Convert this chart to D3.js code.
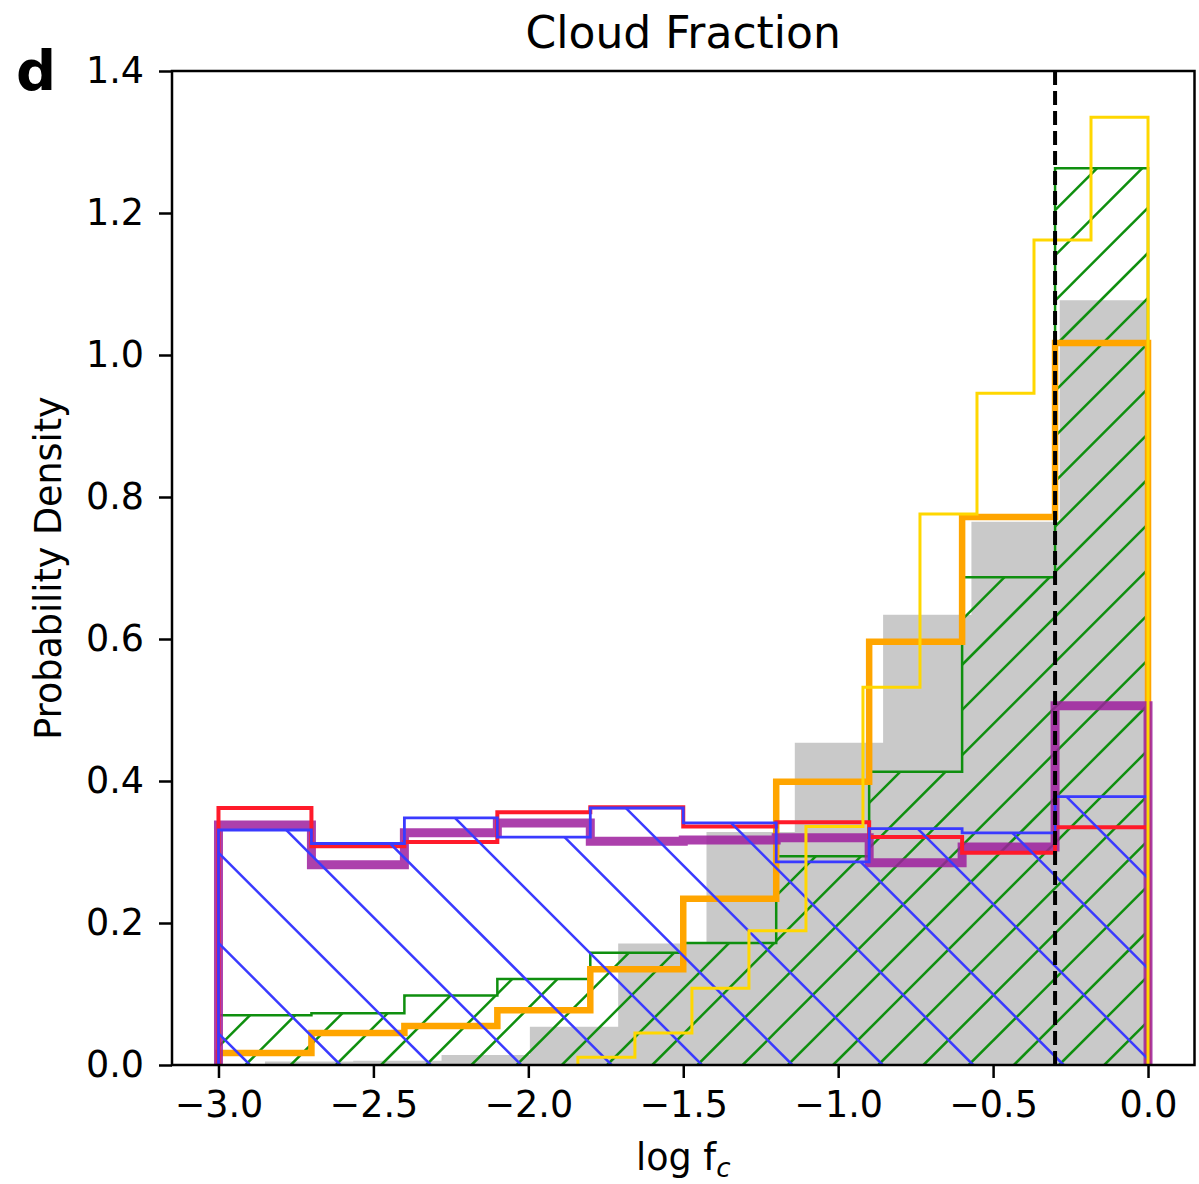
<!DOCTYPE html>
<html>
<head>
<meta charset="utf-8">
<script src="https://cdnjs.cloudflare.com/ajax/libs/d3/7.8.5/d3.min.js"></script>
<style>
  body { margin: 0; background: #fff; }
  text { font-family: "DejaVu Sans", sans-serif; fill: #000; }
</style>
</head>
<body>
<svg id="chart" width="1199" height="1184"></svg>
<script>
// bin edges (log f_c)
var edgesMain = [-3.0, -2.7, -2.4, -2.1, -1.8, -1.5, -1.2, -0.9, -0.6, -0.3, 0.0];
var edgesGray = [-2.85, -2.565, -2.28, -1.995, -1.71, -1.425, -1.14, -0.855, -0.57, -0.285, 0.0];
var edgesGold = [-1.84, -1.656, -1.472, -1.288, -1.104, -0.92, -0.736, -0.552, -0.368, -0.184, 0.0];

// probability densities per bin
var grayVals   = [0.005, 0.006, 0.014, 0.054, 0.171, 0.328, 0.454, 0.634, 0.765, 1.077];
var greenVals  = [0.070, 0.073, 0.098, 0.121, 0.158, 0.172, 0.294, 0.413, 0.687, 1.263];
var orangeVals = [0.017, 0.045, 0.055, 0.077, 0.135, 0.234, 0.399, 0.596, 0.772, 1.017];
var purpleVals = [0.338, 0.282, 0.327, 0.341, 0.315, 0.317, 0.320, 0.285, 0.307, 0.506];
var redVals    = [0.362, 0.308, 0.314, 0.356, 0.363, 0.336, 0.342, 0.321, 0.299, 0.335];
var blueVals   = [0.331, 0.312, 0.348, 0.321, 0.362, 0.341, 0.286, 0.333, 0.327, 0.378];
var goldVals   = [0.011, 0.045, 0.108, 0.189, 0.336, 0.532, 0.776, 0.946, 1.162, 1.335];

var xTicks = [-3.0, -2.5, -2.0, -1.5, -1.0, -0.5, 0.0];
var yTicks = [0.0, 0.2, 0.4, 0.6, 0.8, 1.0, 1.2, 1.4];
var threshold = -0.3;

var svg = d3.select('#chart'),
    pLeft = 172, pRight = 1194.5, pTop = 71, pBottom = 1065,
    fs = 36.5;

var x = d3.scaleLinear().domain([-3.15, 0.15]).range([pLeft, pRight]);
var y = d3.scaleLinear().domain([0, 1.4]).range([pBottom, pTop]);

// step outline of a histogram, from the bin edges and values
function stepPoints(edges, vals) {
    var pts = [[edges[0], 0]];
    vals.forEach(function(v, i) {
        pts.push([edges[i], v]);
        pts.push([edges[i + 1], v]);
    });
    pts.push([edges[edges.length - 1], 0]);
    return pts;
}
var line = d3.line().x(function(d) { return x(d[0]); }).y(function(d) { return y(d[1]); });

var defs = svg.append('defs');
defs.append('clipPath').attr('id', 'plotclip')
    .append('rect').attr('x', pLeft).attr('y', pTop).attr('width', pRight - pLeft).attr('height', pBottom - pTop);

var plot = svg.append('g').attr('clip-path', 'url(#plotclip)');

// hatch lines clipped to the area under a histogram
function hatch(id, edges, vals, color, dir, spacing, anchor) {
    defs.append('clipPath').attr('id', id)
        .append('path').attr('d', line(stepPoints(edges, vals)) + 'Z');
    var g = plot.append('g').attr('clip-path', 'url(#' + id + ')');
    var cs = d3.range(-60, 61).map(function(k) { return anchor + k * spacing; });
    g.selectAll('line').data(cs).enter().append('line')
        .attr('x1', function(c) { return dir > 0 ? c - pTop : c + pTop; })
        .attr('y1', pTop)
        .attr('x2', function(c) { return dir > 0 ? c - pBottom : c + pBottom; })
        .attr('y2', pBottom)
        .attr('stroke', color).attr('stroke-width', 2.5);
}

function outline(edges, vals, color, width, opacity) {
    plot.append('path')
        .attr('d', line(stepPoints(edges, vals)))
        .attr('fill', 'none')
        .attr('stroke', color)
        .attr('stroke-width', width)
        .attr('stroke-opacity', opacity)
        .attr('stroke-linejoin', 'miter');
}

// gray filled histogram
plot.append('path')
    .attr('d', line(stepPoints(edgesGray, grayVals)) + 'Z')
    .attr('fill', '#c9c9c9');

// green '/' hatched
hatch('greenclip', edgesMain, greenVals, '#0f8f0f', 1, 45.2, x(-3) + y(0) + 27);
outline(edgesMain, greenVals, '#0f8f0f', 2.5, 1);

outline(edgesMain, orangeVals, 'orange', 6.5, 1);
outline(edgesMain, purpleVals, '#9e1f9e', 9, 0.85);
outline(edgesMain, redVals, '#ff1a2a', 4, 1);

// blue '\' hatched
hatch('blueclip', edgesMain, blueVals, '#3a3aff', -1, 90.4, x(0) - y(0) + 6);
outline(edgesMain, blueVals, '#3a3aff', 2.8, 1);

outline(edgesGold, goldVals, 'gold', 3, 1);

// threshold
plot.append('line')
    .attr('x1', x(threshold)).attr('x2', x(threshold))
    .attr('y1', pTop).attr('y2', pBottom)
    .attr('stroke', '#000').attr('stroke-width', 4)
    .attr('stroke-dasharray', '14,6');

// axes
var fmt = d3.format('.1f');
var xAxis = svg.append('g').attr('transform', 'translate(0,' + pBottom + ')')
    .call(d3.axisBottom(x).tickValues(xTicks).tickFormat(fmt).tickSize(13).tickPadding(13).tickSizeOuter(0));
var yAxis = svg.append('g').attr('transform', 'translate(' + pLeft + ',0)')
    .call(d3.axisLeft(y).tickValues(yTicks).tickFormat(fmt).tickSize(13).tickPadding(15).tickSizeOuter(0));
[xAxis, yAxis].forEach(function(a) {
    a.select('.domain').remove();
    a.selectAll('line').attr('stroke', '#000').attr('stroke-width', 2.5);
    a.selectAll('text').attr('font-size', fs).attr('font-family', '"DejaVu Sans", sans-serif').attr('fill', '#000');
});

svg.append('rect')
    .attr('x', pLeft).attr('y', pTop).attr('width', pRight - pLeft).attr('height', pBottom - pTop)
    .attr('fill', 'none').attr('stroke', '#000').attr('stroke-width', 2.5);

// labels
svg.append('text').attr('x', (pLeft + pRight) / 2).attr('y', 48)
    .attr('text-anchor', 'middle').attr('font-size', 44).text('Cloud Fraction');

var xl = svg.append('text').attr('x', (pLeft + pRight) / 2).attr('y', 1170)
    .attr('text-anchor', 'middle').attr('font-size', fs);
xl.append('tspan').text('log f');
xl.append('tspan').attr('font-size', 26).attr('font-style', 'italic').attr('dy', 7).text('c');

svg.append('text')
    .attr('transform', 'translate(61,' + (pTop + pBottom) / 2 + ') rotate(-90)')
    .attr('text-anchor', 'middle').attr('font-size', fs).text('Probability Density');

svg.append('text').attr('x', 16).attr('y', 90)
    .attr('font-size', 56).attr('font-weight', 'bold').text('d');
</script>
</body>
</html>
